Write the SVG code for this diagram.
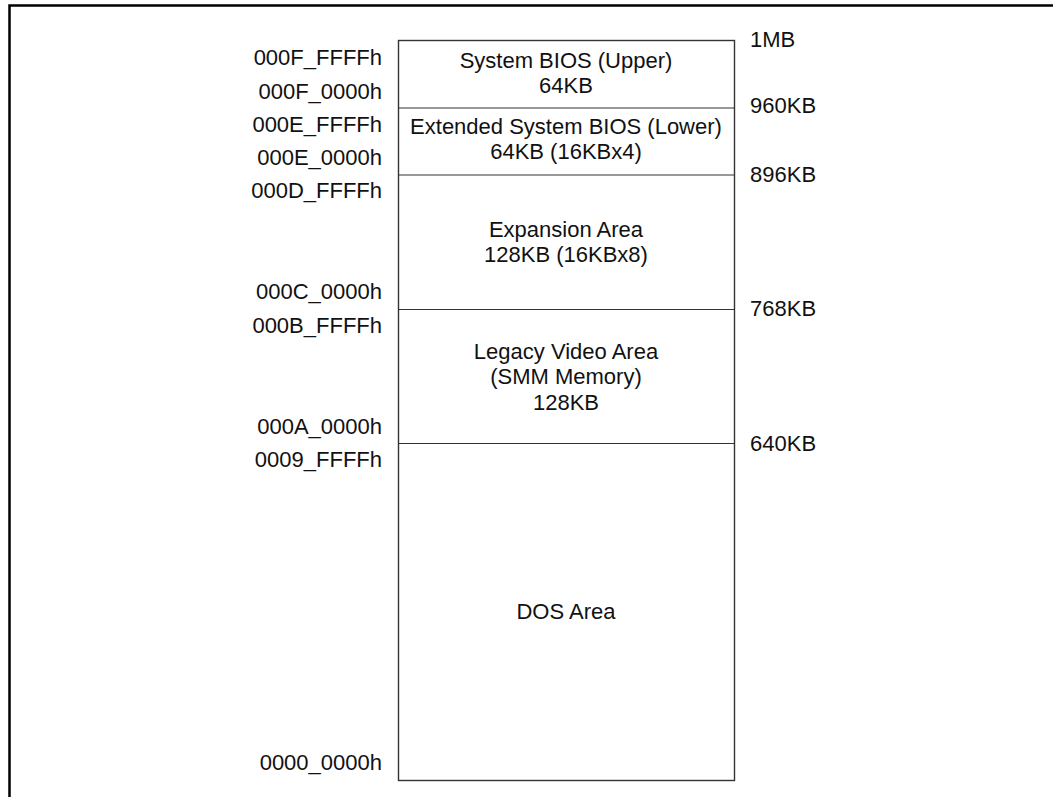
<svg xmlns="http://www.w3.org/2000/svg" width="1053" height="797" viewBox="0 0 1053 797">
<style>
text{font-family:"Liberation Sans",Arial,sans-serif;font-size:22px;fill:#111}
.l{text-anchor:end}
.c{text-anchor:middle}
.div{stroke:#333;stroke-width:1.2;fill:none}
</style>
<rect width="1053" height="797" fill="#fff"/>
<path d="M9.5,797 V5.5 H1053" fill="none" stroke="#000" stroke-width="2.5"/>
<g id="map">
<rect x="398.5" y="40.5" width="336" height="740" fill="#fff" stroke="#333" stroke-width="1.4"/>
</g>
<g id="connectors">
<line class="div" x1="398.5" y1="108" x2="734.5" y2="108"/>
<line class="div" x1="398.5" y1="175" x2="734.5" y2="175"/>
<line class="div" x1="398.5" y1="309.5" x2="734.5" y2="309.5"/>
<line class="div" x1="398.5" y1="443.5" x2="734.5" y2="443.5"/>
</g>
<g id="bios-upper"><text class="c" x="566" y="68">System BIOS (Upper)</text><text class="c" x="566" y="93">64KB</text></g>
<g id="bios-lower"><text class="c" x="566" y="134">Extended System BIOS (Lower)</text><text class="c" x="566" y="159">64KB (16KBx4)</text></g>
<g id="expansion"><text class="c" x="566" y="237">Expansion Area</text><text class="c" x="566" y="262">128KB (16KBx8)</text></g>
<g id="video"><text class="c" x="566" y="359">Legacy Video Area</text><text class="c" x="566" y="384">(SMM Memory)</text><text class="c" x="566" y="410">128KB</text></g>
<g id="dos"><text class="c" x="566" y="619">DOS Area</text></g>
<g id="addresses">
<text class="l" x="382" y="65">000F_FFFFh</text>
<text class="l" x="382" y="99">000F_0000h</text>
<text class="l" x="382" y="132">000E_FFFFh</text>
<text class="l" x="382" y="165">000E_0000h</text>
<text class="l" x="382" y="198">000D_FFFFh</text>
<text class="l" x="382" y="299">000C_0000h</text>
<text class="l" x="382" y="333">000B_FFFFh</text>
<text class="l" x="382" y="434">000A_0000h</text>
<text class="l" x="382" y="467">0009_FFFFh</text>
<text class="l" x="382" y="770">0000_0000h</text>
</g>
<g id="sizes">
<text x="750" y="47">1MB</text>
<text x="750" y="113">960KB</text>
<text x="750" y="182">896KB</text>
<text x="750" y="316">768KB</text>
<text x="750" y="451">640KB</text>
</g>
</svg>
